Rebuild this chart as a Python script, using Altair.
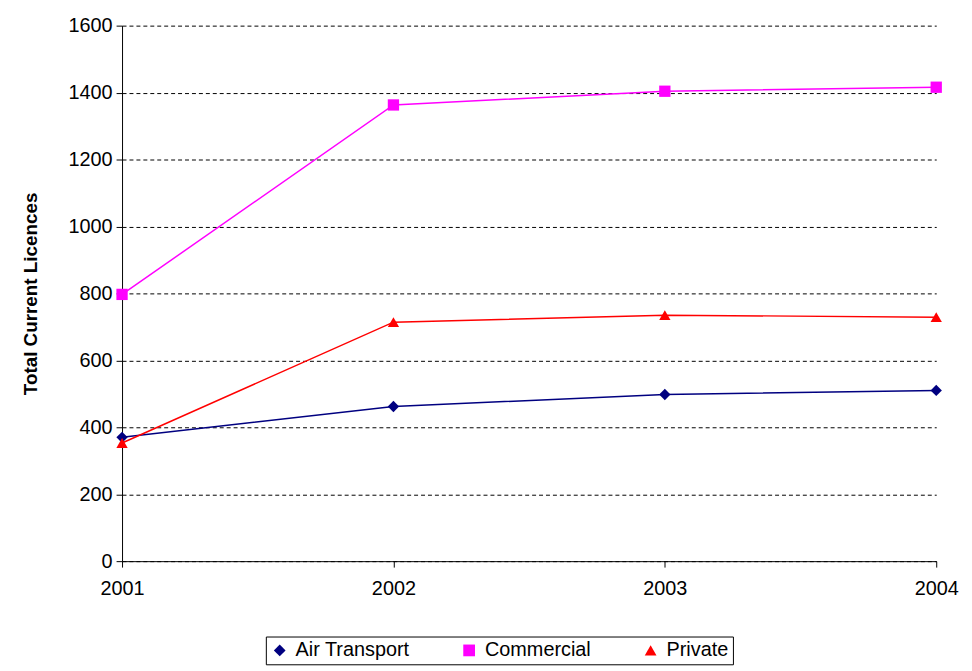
import altair as alt
import pandas as pd

years = [2001, 2002, 2003, 2004]
air_transport = [370, 462, 498, 510]
commercial = [797, 1363, 1404, 1416]
private = [353, 714, 735, 729]

series = ["Air Transport", "Commercial", "Private"]
df = pd.DataFrame({
    "Year": years * 3,
    "Licences": air_transport + commercial + private,
    "Series": [s for s in series for _ in years],
})

color = alt.Color("Series:N", scale=alt.Scale(domain=series, range=["#000080", "#FF00FF", "#FF0000"]),
                  legend=alt.Legend(title=None, orient="none", legendX=145, legendY=616,
                                    direction="horizontal",
                                    strokeColor="black", padding=4, labelFontSize=20,
                                    symbolSize=140, symbolStrokeWidth=0, labelOffset=6,
                                    labelFont="Liberation Sans", columnPadding=50))
shape = alt.Shape("Series:N", scale=alt.Scale(domain=series, range=["diamond", "square", "triangle-up"]))

base = alt.Chart(df).encode(
    x=alt.X("Year:Q", title=None, scale=alt.Scale(domain=[2001, 2004], nice=False),
            axis=alt.Axis(values=years, format="d", grid=False, labelFontSize=20, labelPadding=12,
                          labelFlush=False, tickSize=6, domainColor="black", tickColor="black",
                          labelColor="black")),
    y=alt.Y("Licences:Q", title="Total Current Licences", scale=alt.Scale(domain=[0, 1600]),
            axis=alt.Axis(values=list(range(0, 1601, 200)), format="d", labelFontSize=20,
                          titleFontSize=19, titleFontWeight="bold", gridDash=[4, 3],
                          gridColor="black", domainColor="black", tickColor="black",
                          labelColor="black", tickSize=6, labelPadding=4, titlePadding=28)),
    color=color,
)

lines = base.mark_line(strokeWidth=1.5)
points = base.mark_point(filled=True, size=130, opacity=1).encode(shape=shape)

chart = (lines + points).properties(
    width=821, height=540, padding={"left": 13, "top": 5, "right": 5, "bottom": 5}
).configure(font="Liberation Sans").configure_view(strokeWidth=0).configure_axis(
    labelFont="Liberation Sans", titleFont="Liberation Sans")

chart.save("out.html", embed_options={"renderer": "svg", "actions": False})
